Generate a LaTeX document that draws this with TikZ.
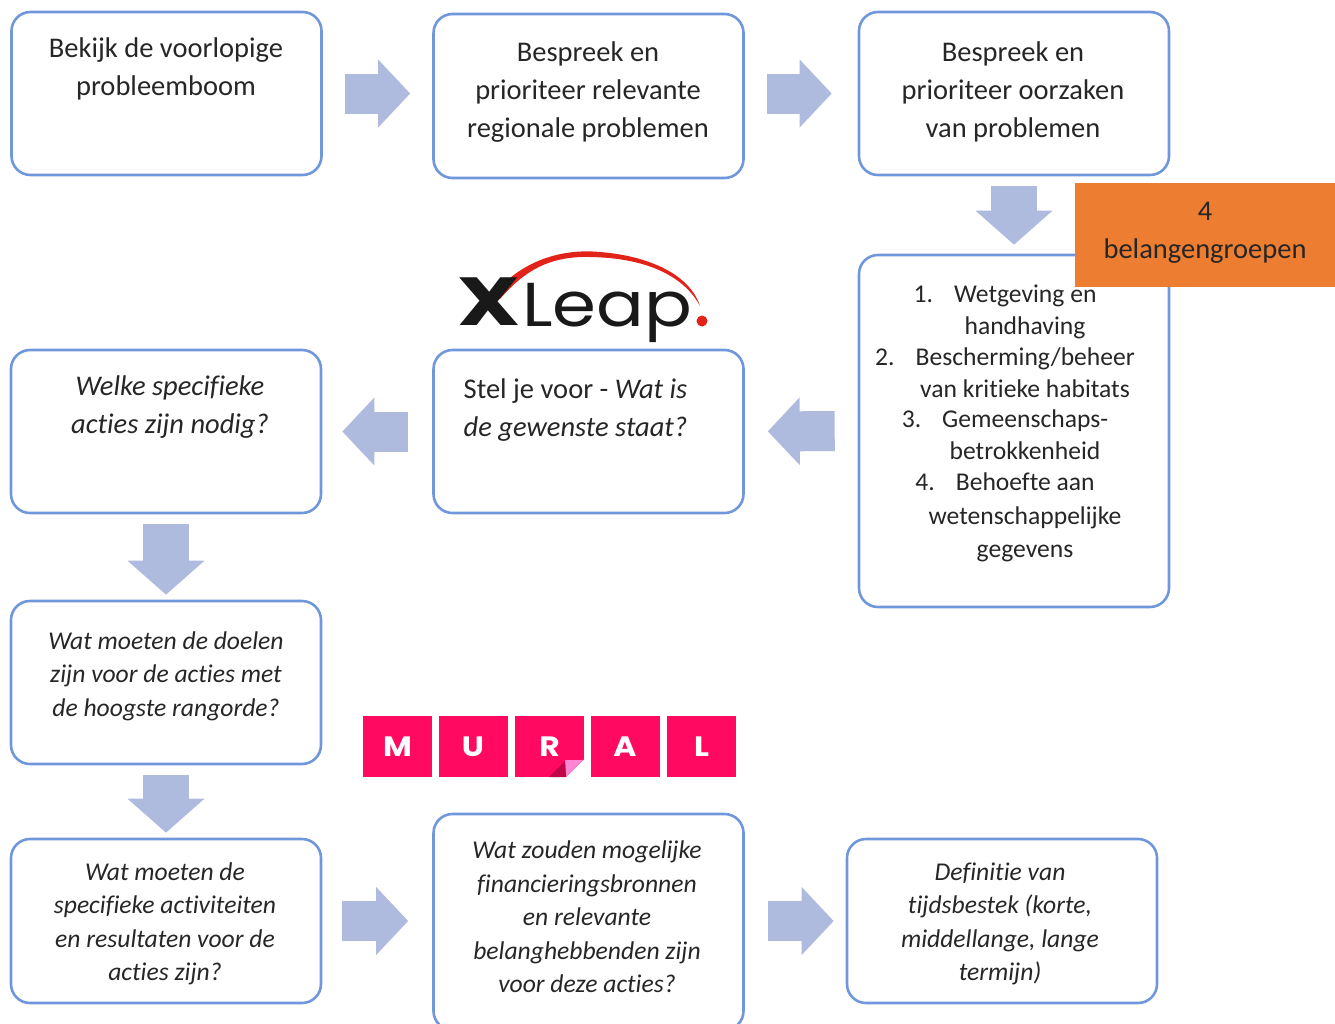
\documentclass[tikz,border=0pt]{standalone}
\usepackage{fontspec}
\setmainfont[Ligatures=CommonOff]{Carlito}
\newfontfamily\muralfont{Poppins}
\usetikzlibrary{arrows.meta}
\definecolor{boxline}{HTML}{7097DB}
\definecolor{flowblue}{HTML}{AEBBDE}
\definecolor{orangebox}{HTML}{ED7D31}
\definecolor{muralred}{HTML}{FF0A60}
\definecolor{swoosh}{HTML}{E2231A}
\begin{document}
\begin{tikzpicture}[x=1pt, y=-1pt, >=latex]
	\tikzstyle{rect} = [rectangle, rounded corners=19pt, draw=boxline, line width=2.6pt, minimum width=310pt, inner sep=0pt]
	\tikzstyle{txt} = [align=center, inner sep=0pt, text=black!85, font=\fontsize{28.5}{38}\selectfont]
	\tikzstyle{small} = [align=center, inner sep=0pt, text=black!85, font=\fontsize{25.6}{33.5}\selectfont\itshape]
	\tikzstyle{hflow} = [draw=flowblue, line width=40pt, -{Triangle[length=32pt, width=66pt]}]
	\tikzstyle{vflow} = [draw=flowblue, line width=46pt, -{Triangle[length=34pt, width=75pt]}]
	\tikzstyle{tile} = [rectangle, fill=muralred, minimum width=69pt, minimum height=61pt, inner sep=0pt]
	\tikzstyle{tilefont} = [inner sep=0pt, text=white, xscale=1.12, font=\fontsize{28}{28}\muralfont\bfseries]
	\clip (0,0) rectangle (1335,1023);

	% boxes
	\node (look) [rect, minimum height=163pt] at (166.5,93.5) {};
	\node (regional) [rect, minimum height=164pt] at (588.5,96) {};
	\node (causes) [rect, minimum height=163pt] at (1014,93.5) {};
	\node (groups) [rect, minimum height=352pt] at (1014,431) {};
	\node (state) [rect, minimum height=163pt] at (588.5,431.5) {};
	\node (actions) [rect, minimum height=163pt] at (166,431.5) {};
	\node (goals) [rect, minimum height=163pt] at (166,682.5) {};
	\node (activities) [rect, minimum height=164pt] at (166,921) {};
	\node (funding) [rect, minimum height=216pt] at (588.5,922) {};
	\node (timing) [rect, minimum height=164pt] at (1002,921) {};

	% block arrows
	\draw[hflow, shorten <=22pt, shorten >=22pt] (look.east) -- (regional.west |- look.east);
	\draw[hflow, shorten <=22pt, shorten >=26pt] (regional.east |- causes.west) -- (causes.west);
	\draw[vflow, shorten <=10pt, shorten >=9pt] (causes.south) -- (groups.north);
	\draw[hflow, shorten <=23pt, shorten >=23pt] (groups.west) -- (state.east);
	\draw[hflow, shorten <=24pt, shorten >=20pt] (state.west) -- (actions.east);
	\draw[vflow, shorten <=10pt, shorten >=5pt] (actions.south) -- (goals.north);
	\draw[vflow, shorten <=10pt, shorten >=5pt] (goals.south) -- (activities.north);
	\draw[hflow, shorten <=20pt, shorten >=24pt] (activities.east) -- (funding.west |- activities.east);
	\draw[hflow, shorten <=23pt, shorten >=12pt] (funding.east |- timing.west) -- (timing.west);

	% texts
	\node (looktxt) [txt] at (166,69) {Bekijk de voorlopige\\probleemboom};
	\node (regionaltxt) [txt] at (588,92) {Bespreek en\\prioriteer relevante\\regionale problemen};
	\node (causestxt) [txt] at (1013,92) {Bespreek en\\prioriteer oorzaken\\van problemen};
	\node (statetxt) [txt, align=left] at (575.5,410) {Stel je voor - \textit{Wat is}\\\textit{de gewenste staat?}};
	\node (actionstxt) [txt, font=\fontsize{28.5}{38}\selectfont\itshape] at (170,407) {Welke specifieke\\acties zijn nodig?};
	\node (goalstxt) [small] at (166,676) {Wat moeten de doelen\\zijn voor de acties met\\de hoogste rangorde?};
	\node (activitiestxt) [small] at (165,924) {Wat moeten de\\specifieke activiteiten\\en resultaten voor de\\acties zijn?};
	\node (fundingtxt) [small] at (587,917) {Wat zouden mogelijke\\financieringsbronnen\\en relevante\\belanghebbenden zijn\\voor deze acties?};
	\node (timingtxt) [small] at (1000,924) {Definitie van\\tijdsbestek (korte,\\middellange, lange\\termijn)};
	\foreach \y/\x/\t in {294/1005/1.\hspace{21pt}Wetgeving en, 326/1025/handhaving, 357/1005/2.\hspace{21pt}Bescherming\slash beheer,
		389/1025/van kritieke habitats, 419/1005/3.\hspace{21pt}Gemeenschaps-, 451/1025/betrokkenheid,
		482/1005/4.\hspace{21pt}Behoefte aan, 516/1025/wetenschappelijke, 549/1025/gegevens}
	\node (line\y) [txt, anchor=base, yshift=-8pt, font=\fontsize{25.6}{30}\selectfont] at (\x,\y) {\t};

	% orange label
	\node (orange) [rectangle, fill=orangebox, minimum width=260pt, minimum height=104pt, inner sep=0pt] at (1205,235) {};
	\node (orangetxt) [txt] at (1205,233) {4\\belangengroepen};

	% xleap logo
	\fill[swoosh] (493,295) .. controls (530,250) and (580,250) .. (600,252) .. controls (650,256) and (690,275) .. (700,306)
		.. controls (685,278) and (650,258) .. (590,257) .. controls (550,256) and (525,270) .. (500,299) -- cycle;
	\fill[swoosh] (702,321) circle (5.5pt);
	\node (logox) [inner sep=0pt, text=black!90, xscale=1.3, font=\fontsize{68}{68}\muralfont\bfseries] at (489,302) {X};
	\node (logoleap) [inner sep=0pt, text=black!90, xscale=1.14, anchor=base west, font=\fontsize{62}{62}\muralfont] at (522,326) {Leap};

	% mural logo
	\foreach \n/\x in {M/397.5, U/473, R/549.5, A/625, L/701.5}{
		\node (tile\n) [tile] at (\x,746.5) {};
		\node (letter\n) [tilefont] at (tile\n) {\n};
	}
	\fill[white] (584.5,759) -- (584.5,778) -- (565,778) -- cycle;
	\fill[pink!70!magenta] (565,760) -- (583,760) -- (566,777) -- cycle;
	\fill[muralred!75!black] (549,777) -- (565,761) -- (566,777) -- cycle;
\end{tikzpicture}
\end{document}
